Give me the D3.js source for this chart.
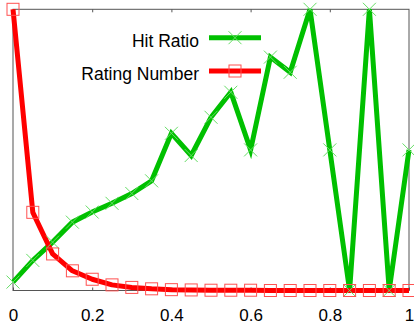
<!DOCTYPE html>
<html>
<head>
<meta charset="utf-8">
<script src="https://cdn.jsdelivr.net/npm/d3@7"></script>
<style>
  html, body { margin: 0; padding: 0; background: #fff; }
  svg { display: block; }
</style>
</head>
<body>
<svg id="chart" width="414" height="328"></svg>
<script>
const xValues = [0, 0.05, 0.1, 0.15, 0.2, 0.25, 0.3, 0.35, 0.4, 0.45, 0.5, 0.55, 0.6, 0.65, 0.7, 0.75, 0.8, 0.85, 0.9, 0.95, 1];
const hitRatio = [0.03, 0.107, 0.172, 0.243, 0.279, 0.31, 0.345, 0.39, 0.559, 0.48, 0.616, 0.705, 0.5, 0.83, 0.776, 1.0, 0.5, 0, 1.0, 0, 0.5];
const ratingNumber = [1.0, 0.278, 0.130, 0.070, 0.040, 0.020, 0.011, 0.006, 0.003, 0.002, 0.001, 0.001, 0.001, 0, 0, 0, 0, 0, 0, 0, 0];
const xTicks = [0, 0.2, 0.4, 0.6, 0.8, 1];
const xTickLabels = ["0", "0.2", "0.4", "0.6", "0.8", "1"];
const seriesNames = ["Hit Ratio", "Rating Number"];

const svg = d3.select("#chart");
const pLeft = 13, pRight = 409, pTop = 9.3, pBottom = 290.5;
const x = d3.scaleLinear().domain([0, 1]).range([pLeft, pRight]);
const y = d3.scaleLinear().domain([0, 1]).range([pBottom, pTop]);

// frame
svg.append("rect").attr("x", pLeft).attr("y", pTop).attr("width", pRight - pLeft).attr("height", pBottom - pTop)
  .attr("fill", "none").attr("stroke", "#555").attr("stroke-width", 1);

// ticks bottom and top (inside)
const xAxisB = d3.axisBottom(x).tickValues(xTicks).tickSizeInner(-3).tickSizeOuter(0)
  .tickFormat((d, i) => xTickLabels[i]).tickPadding(18.4);
const gB = svg.append("g").attr("transform", `translate(0,${pBottom})`).call(xAxisB);
gB.attr("font-size", null).attr("font-family", null);
gB.select(".domain").remove();
gB.selectAll("line").attr("stroke", "#555");
gB.selectAll("text").style("font-family", "'Liberation Sans', Arial, sans-serif").style("font-size", "17px").attr("fill", "#000");

const xAxisT = d3.axisTop(x).tickValues(xTicks.slice(1, -1)).tickSizeInner(-3).tickSizeOuter(0).tickFormat("");
const gT = svg.append("g").attr("transform", `translate(0,${pTop})`).call(xAxisT);
gT.select(".domain").remove();
gT.selectAll("line").attr("stroke", "#555");

const green = "#00c000", red = "#ff0000";
const greenMark = "#66dd66", redMark = "#ff5050";

// green series
const greenLine = d3.line().x((d, i) => x(xValues[i])).y(d => y(d));
svg.append("path").datum(hitRatio).attr("d", greenLine).attr("fill", "none")
  .attr("stroke", green).attr("stroke-width", 5).attr("stroke-linejoin", "miter");

// red series
const redLine = d3.line().x((d, i) => x(xValues[i])).y(d => y(d));
svg.append("path").datum(ratingNumber).attr("d", redLine).attr("fill", "none")
  .attr("stroke", red).attr("stroke-width", 5).attr("stroke-linejoin", "round");

const cs = 6.5;
function cross(g, cx, cy) {
  g.append("path").attr("d", `M${cx - cs},${cy - cs}L${cx + cs},${cy + cs}M${cx - cs},${cy + cs}L${cx + cs},${cy - cs}`)
    .attr("stroke", greenMark).attr("stroke-width", 1).attr("fill", "none");
}
function square(g, cx, cy) {
  g.append("rect").attr("x", cx - 6).attr("y", cy - 6).attr("width", 12).attr("height", 12)
    .attr("fill", "none").attr("stroke", redMark).attr("stroke-width", 1);
}
const mg = svg.append("g");
hitRatio.forEach((v, i) => cross(mg, x(xValues[i]), y(v)));
ratingNumber.forEach((v, i) => square(mg, x(xValues[i]), y(v)));

// legend
const leg = svg.append("g").style("font-family", "'Liberation Sans', Arial, sans-serif").style("font-size", "17.5px");
const legendY = [37.7, 71];
const legendColors = [green, red];
seriesNames.forEach((name, i) => {
  leg.append("text").attr("x", 199).attr("y", legendY[i] + 8.8).attr("text-anchor", "end").attr("fill", "#000").text(name);
  leg.append("line").attr("x1", 209).attr("x2", 261).attr("y1", legendY[i]).attr("y2", legendY[i])
    .attr("stroke", legendColors[i]).attr("stroke-width", 5);
  if (i === 0) cross(leg, 235, legendY[i]); else square(leg, 235, legendY[i]);
});
</script>
</body>
</html>
